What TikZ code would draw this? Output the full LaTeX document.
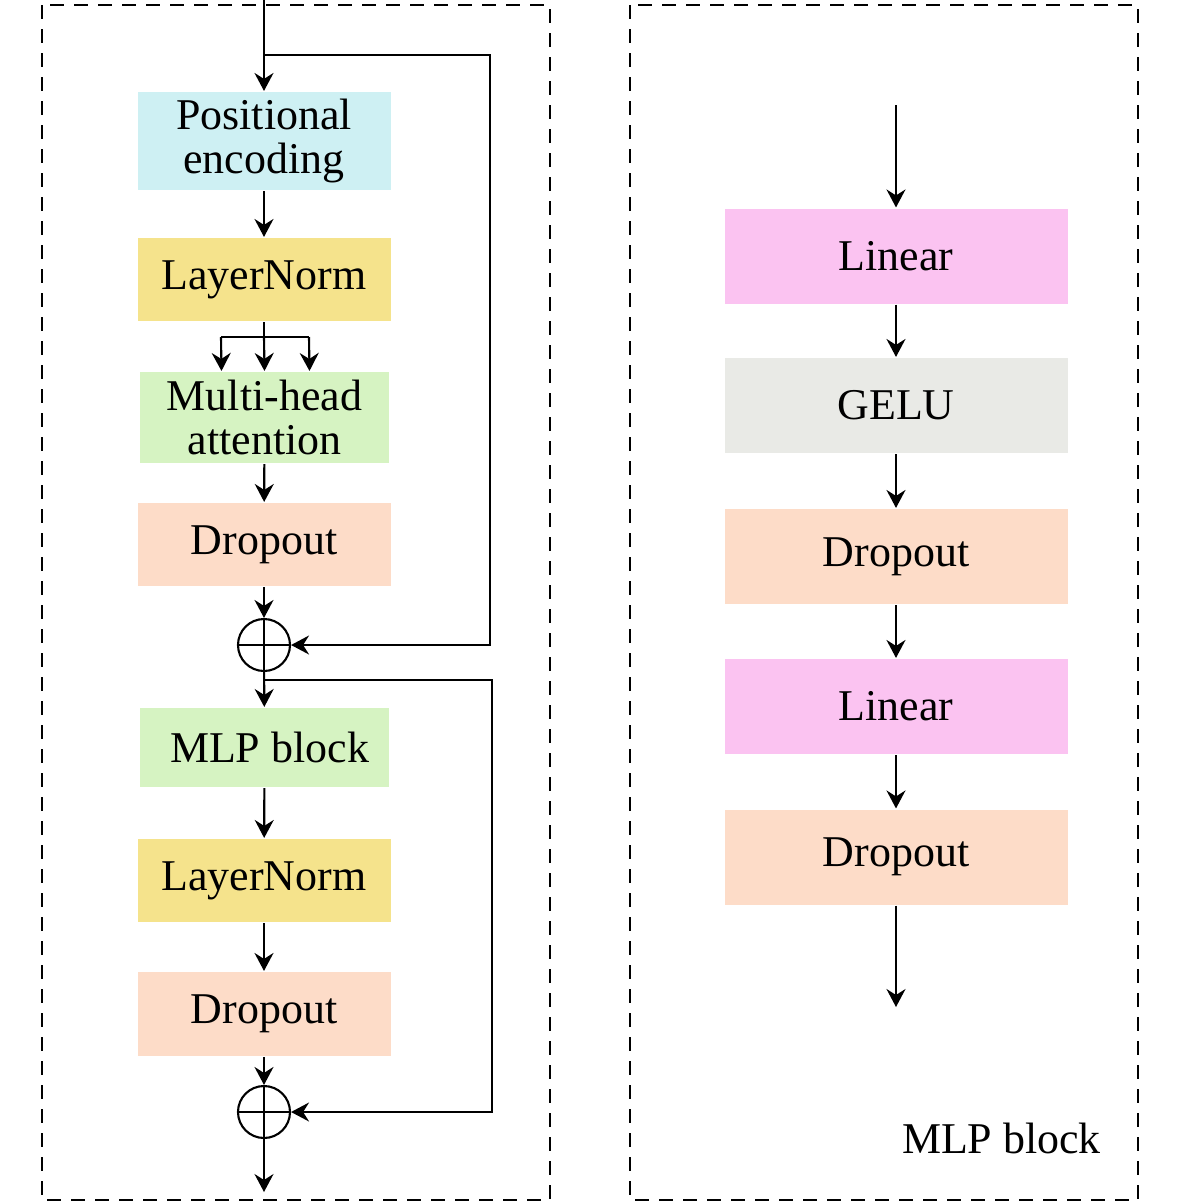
\documentclass[tikz,border=0pt]{standalone}
\usepackage{fontspec}
\setmainfont{Liberation Serif}
\usetikzlibrary{arrows.meta, positioning, calc}
\definecolor{ccyan}{HTML}{CEF0F3}
\definecolor{cyellow}{HTML}{F5E38C}
\definecolor{cgreen}{HTML}{D6F3C2}
\definecolor{cpeach}{HTML}{FDDCC8}
\definecolor{cpink}{HTML}{FBC3F1}
\definecolor{cgrey}{HTML}{E9EAE6}
\tikzset{
  every picture/.style={line width=1.2pt},
  layer/.style={fill=#1, draw=none, align=center, inner sep=0pt, minimum height=1.66cm, minimum width=5.06cm,
    font=\fontsize{25}{25}\selectfont},
  layer/.default=cgrey,
  wide/.style={layer=#1, minimum width=6.86cm, minimum height=1.9cm},
  arrow/.style={-{Stealth[length=0.36cm, width=0.38cm, inset=0.12cm]}, draw=black},
  add/.style={circle, draw, minimum size=1.04cm, inner sep=0pt, line width=1.2pt,
    path picture={\draw (path picture bounding box.north) -- (path picture bounding box.south)
      (path picture bounding box.west) -- (path picture bounding box.east);}},
  frame/.style={draw=black, dash pattern=on 0.27cm off 0.21cm, line width=1.1pt},
}

\begin{document}
\begin{tikzpicture}
  \useasboundingbox (0,0) rectangle (23.62,-24.06);

  % frames
  \draw[frame] (0.84,-0.1) rectangle (11,-24);
  \draw[frame] (12.6,-0.1) rectangle (22.76,-24);

  % encoder block
  \coordinate (in) at (5.28,0);
  \coordinate (s1) at (5.28,-1.1);
  \node[layer=ccyan, minimum height=1.96cm] (pe) at (5.28,-2.82) {Positional\\encoding};
  \node[layer=cyellow] (ln1) at (5.28,-5.59) {LayerNorm};
  \node[layer=cgreen, minimum width=4.98cm, minimum height=1.82cm] (mha) at (5.29,-8.35) {Multi-head\\attention};
  \node[layer=cpeach] (do1) at (5.28,-10.89) {Dropout};
  \node[add] (add1) at (5.28,-12.9) {};
  \coordinate (s2) at (5.28,-13.6);
  \node[layer=cgreen, minimum width=4.98cm, minimum height=1.58cm] (mlp) at (5.29,-14.95) {\hspace{0.2cm}MLP block};
  \node[layer=cyellow] (ln2) at (5.28,-17.61) {LayerNorm};
  \node[layer=cpeach, minimum height=1.68cm] (do2) at (5.28,-20.28) {Dropout};
  \node[add] (add2) at (5.28,-22.24) {};
  \coordinate (out) at (5.28,-23.84);
  \coordinate (fork) at (5.28,-6.74);

  \draw[arrow] (in) -- (pe);
  \draw[arrow] (pe) -- (ln1);
  \draw (ln1) -- (fork);
  \draw ([xshift=-0.86cm]fork) -- ([xshift=0.9cm]fork);
  \foreach \dx in {-0.86, 0, 0.9} \draw[arrow] ([xshift=\dx cm]fork) -- ([xshift=\dx cm]mha.north);
  \draw[arrow] (mha) -- (do1);
  \draw[arrow] (do1) -- (add1);
  \draw[arrow] (add1) -- (mlp);
  \draw[arrow] (mlp) -- (ln2);
  \draw[arrow] (ln2) -- (do2);
  \draw[arrow] (do2) -- (add2);
  \draw[arrow] (add2) -- (out);
  \draw[arrow] (s1) -| (9.8,-12.9) -- (add1.east);
  \draw[arrow] (s2) -| (9.84,-22.24) -- (add2.east);

  % mlp block
  \coordinate (min) at (17.92,-2.1);
  \node[wide=cpink] (lin1) at (17.92,-5.12) {Linear};
  \node[wide=cgrey] (gelu) at (17.92,-8.11) {GELU};
  \node[wide=cpeach] (do3) at (17.92,-11.13) {Dropout};
  \node[wide=cpink] (lin2) at (17.92,-14.13) {Linear};
  \node[wide=cpeach] (do4) at (17.92,-17.14) {Dropout};
  \coordinate (mout) at (17.92,-20.14);
  \node[font=\fontsize{25}{25}\selectfont, anchor=east, inner sep=0pt] (title) at (22.04,-22.76) {MLP block};

  \draw[arrow] (min) -- (lin1);
  \draw[arrow] (lin1) -- (gelu);
  \draw[arrow] (gelu) -- (do3);
  \draw[arrow] (do3) -- (lin2);
  \draw[arrow] (lin2) -- (do4);
  \draw[arrow] (do4) -- (mout);
\end{tikzpicture}
\end{document}
